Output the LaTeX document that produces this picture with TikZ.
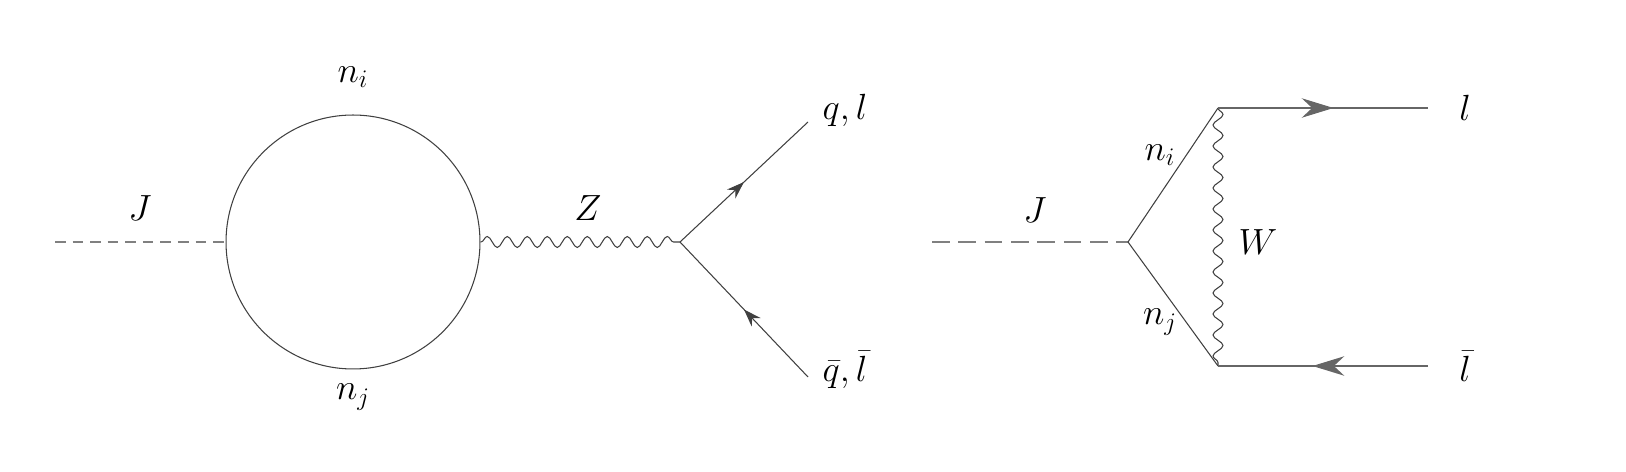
\documentclass[tikz,border=0pt]{standalone}
\usetikzlibrary{decorations.pathmorphing,decorations.markings,arrows.meta}
\begin{document}
\begin{tikzpicture}[x=0.02cm,y=-0.02cm,
  lbl/.style={font=\huge},
  scal/.style={draw=gray,thick,dash pattern=on 6pt off 4pt},
  phot/.style={draw=black!75,semithick,decorate,decoration={snake,segment length=0.4cm,amplitude=0.11cm}},
  ferm/.style={draw=black!75,semithick},
  fermR/.style={draw=black!60,line width=1.6pt},
  midarrow/.style={postaction={decorate},decoration={markings,mark=at position 0.5 with {\arrow{Stealth[length=10pt,width=7pt]}}}},
  midarrowB/.style={postaction={decorate},decoration={markings,mark=at position 0.55 with {\arrow{Stealth[length=18pt,width=11pt]}}}}]
% left diagram
\coordinate (a0) at (55,242);
\coordinate (c) at (353,242);
\coordinate (cl) at (226,242);
\coordinate (cr) at (481,242);
\coordinate (v1) at (680,242);
\coordinate (q1) at (808,122);
\coordinate (q2) at (808,377);
\draw[scal] (a0) -- (cl);
\draw[draw=black!75,semithick] (c) circle[radius=2.54cm];
\draw[phot] (cr) -- (v1);
\draw[ferm,midarrow] (v1) -- (q1);
\draw[ferm,midarrow] (q2) -- (v1);
\node[lbl] (J1) at (140,208) {$J$};
\node[lbl] (ni1) at (353,77) {$n_i$};
\node[lbl] (nj1) at (353,397) {$n_j$};
\node[lbl] (Z) at (588,208) {$Z$};
\node[lbl] (ql) at (845,110) {$q,l$};
\node[lbl] (qbl) at (845,370) {$\bar q,\bar l$};
% right diagram
\coordinate (b0) at (932,242);
\coordinate (v2) at (1128,242);
\coordinate (w1) at (1218,108);
\coordinate (w2) at (1218,366);
\coordinate (l1) at (1428,108);
\coordinate (l2) at (1428,366);
\draw[scal,line width=1.5pt,dash pattern=on 10pt off 5pt] (b0) -- (v2);
\draw[ferm] (v2) -- (w1);
\draw[ferm] (v2) -- (w2);
\draw[phot,decoration={snake,segment length=0.42cm,amplitude=0.1cm}] (w1) -- (w2);
\draw[fermR,midarrowB] (w1) -- (l1);
\draw[fermR,midarrowB] (l2) -- (w2);
\node[lbl] (J2) at (1035,210) {$J$};
\node[lbl] (ni2) at (1160,155) {$n_i$};
\node[lbl] (nj2) at (1160,322) {$n_j$};
\node[lbl] (W) at (1258,242) {$W$};
\node[lbl] (l) at (1465,108) {$l$};
\node[lbl] (lb) at (1465,366) {$\bar l$};
\pgfresetboundingbox
\useasboundingbox (0,0) rectangle (1626,472);
\end{tikzpicture}
\end{document}
